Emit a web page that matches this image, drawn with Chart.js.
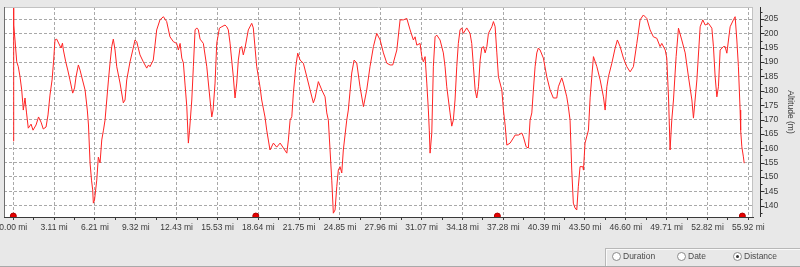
<!DOCTYPE html>
<html><head><meta charset="utf-8">
<script src="https://cdn.jsdelivr.net/npm/chart.js"></script>
<style>
html,body{margin:0;padding:0;background:#e8e8e8;}
#wrap{position:relative;width:800px;height:267px;overflow:hidden;background:#e8e8e8;}
#c{position:absolute;left:0;top:0;}
#panel{position:absolute;left:605px;top:248px;width:195px;height:18px;border-top:1px solid #b8b8b8;border-left:1px solid #b8b8b8;box-shadow:inset 1px 1px 0 #fafafa;font:8.5px "Liberation Sans",Arial,sans-serif;color:#4a4a4a;}
.dot{position:absolute;top:3px;width:7px;height:7px;border:1px solid #8a8a8a;border-radius:50%;background:#fff;}
.dot.on::after{content:"";position:absolute;left:2px;top:2px;width:3px;height:3px;border-radius:50%;background:#333;}
.lbl{position:absolute;top:2px;line-height:10px;}
#bline{position:absolute;left:0;top:266px;width:800px;height:1px;background:#a9a9a9;}
</style>
</head><body>
<div id="wrap"><canvas id="c" width="800" height="267"></canvas><div id="panel"></div><div id="bline"></div></div>
<script>
// ---- data ----
const distanceMi = [
0.00,0.01,0.05,0.13,0.26,0.38,0.51,0.64,0.72,0.76,
0.89,1.00,1.14,1.35,1.50,1.73,1.92,2.11,2.28,2.49,
2.64,2.79,2.95,3.06,3.17,3.30,3.48,3.63,3.74,3.81,
3.99,4.16,4.31,4.52,4.66,4.77,4.95,5.08,5.21,5.46,
5.63,5.72,5.84,5.95,6.04,6.09,6.18,6.35,6.47,6.60,
6.73,6.86,6.98,7.11,7.24,7.36,7.49,7.61,7.74,7.87,
8.12,8.37,8.50,8.63,8.88,9.09,9.26,9.39,9.64,9.89,
10.15,10.29,10.40,10.65,10.78,10.91,11.16,11.42,11.67,11.92,
12.18,12.43,12.56,12.69,12.82,12.94,13.07,13.20,13.32,13.41,
13.58,13.70,13.83,13.96,14.08,14.21,14.46,14.72,14.97,15.10,
15.20,15.35,15.48,15.68,15.86,16.11,16.24,16.36,16.49,16.74,
16.87,17.00,17.12,17.25,17.38,17.50,17.63,17.88,18.14,18.26,
18.52,18.77,18.90,19.15,19.28,19.53,19.79,20.04,20.30,20.55,
20.81,20.93,21.06,21.19,21.31,21.49,21.64,21.82,22.07,22.33,
22.58,22.83,22.96,23.21,23.47,23.72,23.85,23.97,24.23,24.35,
24.48,24.61,24.73,24.86,24.99,25.11,25.37,25.49,25.75,25.93,
26.13,26.38,26.64,26.89,27.14,27.40,27.65,27.91,28.16,28.42,
28.67,28.87,29.18,29.43,29.68,29.94,30.19,30.44,30.57,30.70,
30.95,31.08,31.20,31.33,31.46,31.58,31.65,31.71,31.84,31.90,
31.96,32.09,32.22,32.47,32.72,32.85,32.98,33.23,33.36,33.48,
33.61,33.74,33.86,33.99,34.12,34.24,34.50,34.75,34.88,35.01,
35.14,35.26,35.39,35.52,35.64,35.77,35.90,36.03,36.15,36.41,
36.53,36.66,36.79,36.91,37.17,37.29,37.42,37.55,37.80,38.05,
38.18,38.43,38.69,38.81,39.02,39.19,39.32,39.45,39.57,39.70,
39.83,39.95,40.08,40.33,40.59,40.84,41.09,41.35,41.47,41.73,
41.85,42.11,42.23,42.36,42.49,42.61,42.74,42.87,42.99,43.12,
43.33,43.38,43.50,43.76,43.89,44.14,44.40,44.65,44.90,45.03,
45.16,45.28,45.54,45.79,45.96,46.17,46.42,46.68,46.93,47.18,
47.44,47.69,47.94,48.20,48.45,48.70,48.96,49.21,49.34,49.60,
49.72,49.86,49.97,50.10,50.23,50.43,50.61,50.86,51.12,51.37,
51.63,51.75,52.01,52.26,52.46,52.64,52.89,53.15,53.27,53.40,
53.53,53.65,53.78,54.03,54.16,54.29,54.54,54.79,54.92,55.05,
55.17,55.30,55.34,55.43,55.55,55.61];
const altitudeM = [
162.5,208.8,202.9,197.7,190.1,188.4,184.9,180.3,175.8,173.3,
177.5,172.6,167.0,168.4,166.3,168.1,170.9,169.1,166.7,167.4,
171.6,178.5,183.8,190.0,197.7,198.0,196.3,194.9,196.6,194.2,
190.1,186.9,183.8,179.2,181.0,184.8,189.0,187.2,184.8,180.3,
173.3,168.1,154.9,148.9,145.5,140.9,142.0,148.9,156.9,154.9,
162.9,166.3,169.8,176.8,183.8,189.7,195.4,198.0,194.2,188.4,
182.7,175.8,176.8,183.8,190.1,194.2,197.7,197.1,192.5,190.1,
187.9,189.0,188.4,190.7,195.9,201.2,204.7,205.8,204.1,198.8,
197.1,196.5,194.2,196.5,191.4,189.7,182.0,174.5,161.8,166.3,
176.8,188.4,201.2,201.9,201.2,198.0,196.5,188.4,176.8,170.9,
173.3,182.7,196.6,201.8,202.3,202.9,202.3,201.2,196.6,184.9,
177.5,182.7,190.7,194.9,195.4,192.5,194.9,201.2,203.5,201.9,
188.4,181.4,176.8,170.9,166.3,159.4,161.8,160.4,161.8,160.1,
158.3,162.9,169.8,171.0,179.2,188.4,193.1,190.7,189.6,184.9,
180.3,175.8,177.5,183.2,180.3,177.9,172.3,169.8,148.9,137.4,
138.5,146.6,152.4,153.6,151.4,159.4,169.8,173.3,186.2,190.7,
189.7,181.4,174.5,180.3,188.4,195.4,200.0,197.7,193.2,189.6,
189.0,189.0,194.2,204.7,204.7,205.2,201.2,197.7,198.8,195.9,
196.5,191.9,190.1,191.9,182.7,173.3,166.3,158.3,165.3,176.8,
188.4,198.8,199.4,197.7,193.2,188.4,181.4,172.3,167.7,169.8,
176.8,188.4,196.5,201.2,201.9,200.0,201.9,200.0,196.5,188.4,
180.3,177.5,181.4,190.7,194.9,195.4,193.2,195.4,200.0,202.3,
204.1,202.3,193.2,184.9,180.3,173.3,168.1,161.1,161.8,163.6,
164.6,164.6,165.3,164.0,160.5,160.1,169.8,172.3,180.3,188.4,
193.2,194.9,194.2,191.4,184.9,180.3,177.5,177.5,181.4,184.5,
182.7,177.9,174.5,169.8,152.4,140.9,139.2,138.5,146.6,153.6,
153.6,152.4,161.8,166.3,177.8,191.9,188.4,183.8,177.9,173.3,
181.4,184.9,189.6,194.9,197.7,195.4,191.4,188.4,186.6,188.4,
196.5,204.7,206.4,205.2,201.2,198.8,198.3,195.4,196.5,194.2,
191.4,176.8,159.4,169.8,176.8,191.9,201.8,197.7,193.2,184.9,
176.8,170.5,183.8,202.3,204.7,202.9,203.5,201.8,195.4,184.9,
177.9,181.4,194.2,195.4,195.4,193.1,202.3,204.7,205.8,197.7,
188.4,173.3,166.3,160.5,157.0,154.8];
const lapMarkerMi = [0.00, 18.45, 36.83, 55.47];
const lapMarkerAlt = [136.4, 136.4, 136.4, 136.4];
const xTickValues = [0,3.107,6.214,9.321,12.427,15.534,18.641,21.748,24.855,27.962,31.069,34.175,37.282,40.389,43.496,46.603,49.710,52.817,55.923];
const xTickLabels = ["0.00 mi","3.11 mi","6.21 mi","9.32 mi","12.43 mi","15.53 mi","18.64 mi","21.75 mi","24.85 mi","27.96 mi","31.07 mi","34.18 mi","37.28 mi","40.39 mi","43.50 mi","46.60 mi","49.71 mi","52.82 mi","55.92 mi"];
const yTickValues = [140,145,150,155,160,165,170,175,180,185,190,195,200,205];
const yTickLabels = ["140","145","150","155","160","165","170","175","180","185","190","195","200","205"];
const yAxisTitle = "Altitude (m)";
const radioLabels = ["Duration","Date","Distance"];
const radioSelected = 2;

// ---- axis ranges ----
const X_MIN = -0.708, X_MAX = 56.28, Y_MIN = 136.07, Y_MAX = 209.18;

// radio panel
const panel = document.getElementById('panel');
const dotLeft = [6, 71, 127], lblLeft = [17, 82, 138];
radioLabels.forEach((t, i) => {
  const d = document.createElement('div'); d.className = 'dot' + (i === radioSelected ? ' on' : ''); d.style.left = dotLeft[i] + 'px'; panel.appendChild(d);
  const l = document.createElement('div'); l.className = 'lbl'; l.style.left = lblLeft[i] + 'px'; l.textContent = t; panel.appendChild(l);
});

const FONT = {family: '"Liberation Sans", Arial, sans-serif', size: 8.5};
const xAllTicks = [];
xTickValues.forEach((v, i) => { xAllTicks.push(v); if (i < xTickValues.length - 1) xAllTicks.push((v + xTickValues[i + 1]) / 2); });

const framePlugin = {
  id: 'frame',
  beforeDraw(chart) {
    const {ctx, chartArea: a, width, height} = chart;
    ctx.save();
    ctx.fillStyle = '#e8e8e8'; ctx.fillRect(0, 0, width, height);
    ctx.fillStyle = '#ffffff'; ctx.fillRect(a.left, a.top, a.right - a.left, a.bottom - a.top);
    ctx.restore();
  },
  afterDraw(chart) {
    const {ctx, chartArea: a} = chart;
    const ys = chart.scales.y;
    ctx.save();
    ctx.lineWidth = 1;
    ctx.strokeStyle = '#c2c2c2';
    ctx.beginPath();
    ctx.moveTo(a.left, a.top + 0.5); ctx.lineTo(a.right, a.top + 0.5);
    ctx.moveTo(a.right - 0.5, a.top); ctx.lineTo(a.right - 0.5, a.bottom);
    ctx.stroke();
    ctx.strokeStyle = '#6e6e6e';
    ctx.beginPath(); ctx.moveTo(a.left + 0.5, a.top); ctx.lineTo(a.left + 0.5, a.bottom); ctx.stroke();
    const ax = Math.round(a.right + 7) + 0.5;
    ctx.strokeStyle = '#2e2e2e';
    ctx.beginPath();
    ctx.moveTo(ax, a.top); ctx.lineTo(ax, a.bottom);
    yTickValues.forEach(v => { const p = Math.round(ys.getPixelForValue(v)) + 0.5; ctx.moveTo(ax, p); ctx.lineTo(ax + 4, p); });
    const minor = [yTickValues[0] - 2.5].concat(yTickValues.map(v => v + 2.5));
    minor.forEach(v => { const p = ys.getPixelForValue(v); if (p < a.top || p > a.bottom) return; const q = Math.round(p) + 0.5; ctx.moveTo(ax, q); ctx.lineTo(ax + 2, q); });
    ctx.stroke();
    ctx.restore();
  }
};

new Chart(document.getElementById('c'), {
  type: 'line',
  data: {
    datasets: [
      {
        data: distanceMi.map((d, i) => ({x: d, y: altitudeM[i]})),
        borderColor: '#ff2424', borderWidth: 1, pointRadius: 0, tension: 0, fill: false
      },
      {
        type: 'scatter',
        data: lapMarkerMi.map((d, i) => ({x: d, y: lapMarkerAlt[i]})),
        clip: 0,
        pointRadius: 3, pointBackgroundColor: '#e60000', pointBorderColor: '#b00000', pointBorderWidth: 1, showLine: false
      }
    ]
  },
  options: {
    responsive: false, animation: false, devicePixelRatio: 1,
    layout: {padding: {left: 4, top: 7, right: 0, bottom: 0}, autoPadding: false},
    plugins: {legend: {display: false}, tooltip: {enabled: false}},
    scales: {
      x: {
        type: 'linear', min: X_MIN, max: X_MAX,
        afterBuildTicks: s => { s.ticks = xAllTicks.map(v => ({value: v})); },
        afterFit: s => { s.height = 50; s.paddingLeft = 0; s.paddingRight = 0; },
        ticks: {
          autoSkip: false, maxRotation: 0, minRotation: 0, padding: 2.5, color: '#3a3a3a', font: FONT,
          callback: (v, i) => (i % 2 === 0 ? xTickLabels[i / 2] : '')
        },
        grid: {
          color: c => (c.index % 2 === 0 ? '#a9a9a9' : 'rgba(0,0,0,0)'),
          tickColor: '#3a3a3a', tickLength: 3, lineWidth: 1
        },
        border: {display: true, color: '#3a3a3a', width: 1, dash: [3, 2]}
      },
      y: {
        type: 'linear', position: 'right', min: Y_MIN, max: Y_MAX,
        afterBuildTicks: s => { s.ticks = yTickValues.map(v => ({value: v})); },
        afterFit: s => { s.width = 47; s.paddingTop = 0; s.paddingBottom = 0; },
        ticks: {
          padding: 11, color: '#3a3a3a', font: FONT,
          callback: (v, i) => yTickLabels[i]
        },
        grid: {color: '#a9a9a9', drawTicks: false, lineWidth: 1},
        border: {display: false, dash: [3, 2]},
        title: {display: true, text: yAxisTitle, color: '#3a3a3a', font: FONT, padding: {top: 4.5, bottom: 0}}
      }
    }
  },
  plugins: [framePlugin]
});
</script>
</body></html>
